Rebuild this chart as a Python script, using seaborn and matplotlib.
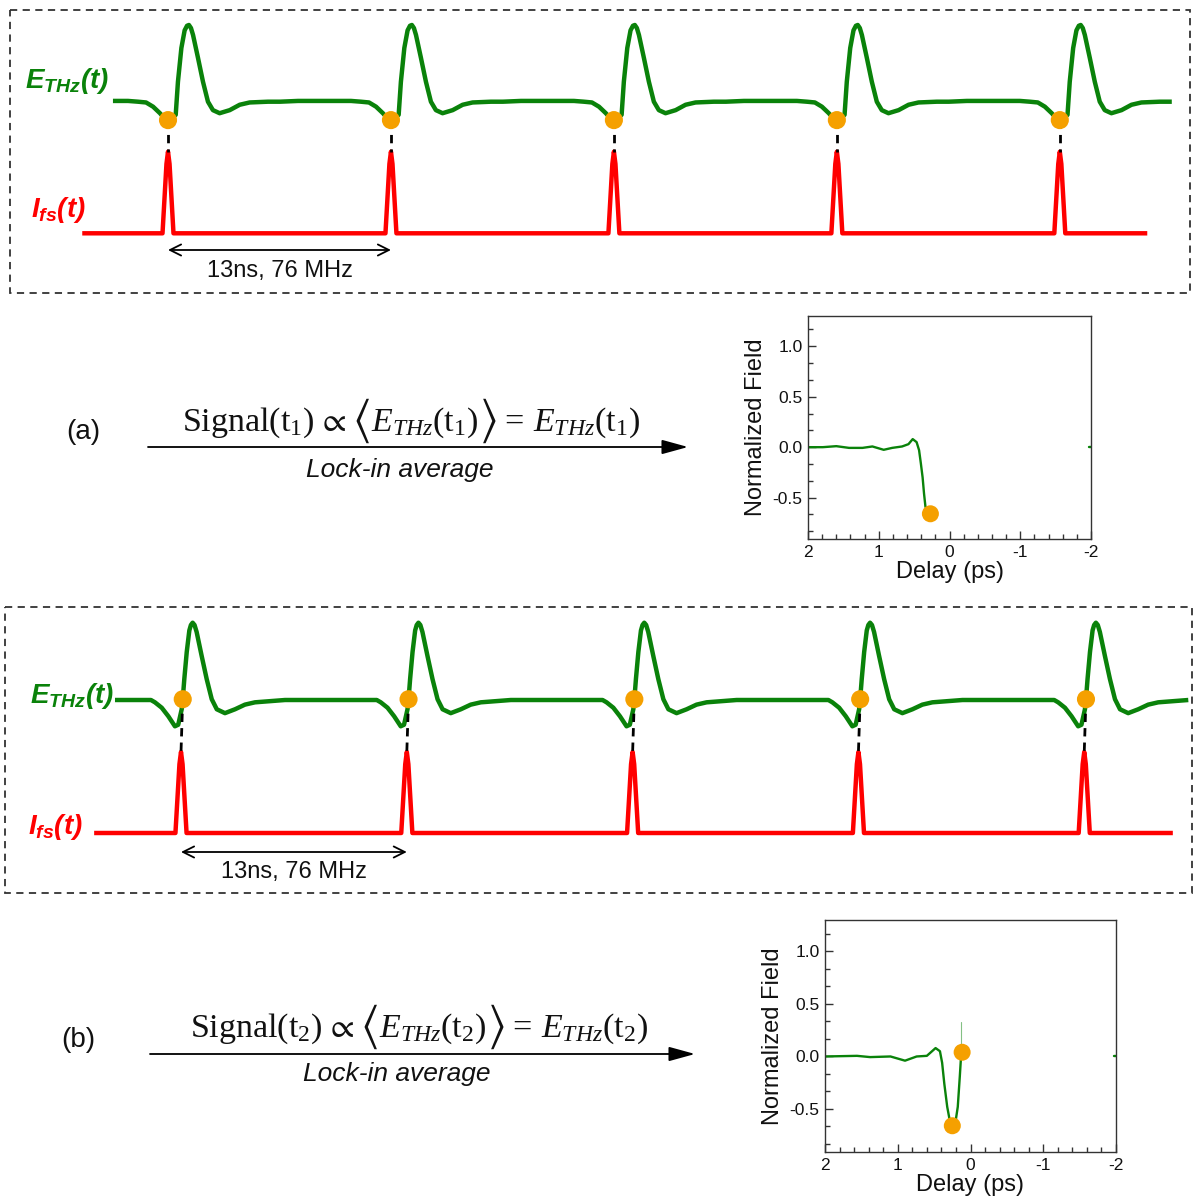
import numpy as np
import matplotlib
matplotlib.use("Agg")
import matplotlib.pyplot as plt
import seaborn as sns
from matplotlib.patches import Rectangle
from matplotlib.ticker import AutoMinorLocator

sns.set_theme(style="white")
plt.rcParams["font.family"] = ["Liberation Sans", "DejaVu Sans"]
plt.rcParams["axes.unicode_minus"] = False
plt.rcParams["mathtext.fontset"] = "custom"
plt.rcParams["mathtext.rm"] = "Liberation Serif"
plt.rcParams["mathtext.it"] = "Liberation Serif:italic"
plt.rcParams["mathtext.bf"] = "Liberation Sans:italic:bold"
plt.rcParams["mathtext.fallback"] = "stix"

GREEN = "#0A820A"
RED = "#FF0000"
ORANGE = "#F5A000"

# ---------------- data ----------------
pulse_times = [0.0, 13.0, 26.0, 39.0, 52.0]          # ns, 76 MHz repetition
period_label = "13ns, 76 MHz"

# one period of the THz field around a laser pulse, case (a) (t in ns, E normalized)
a_tmpl_t = [-3.21, -2.33, -1.75, -1.28, -0.87, -0.47, -0.23, 0.0, 0.23, 0.45, 0.58, 0.78,
            0.97, 1.11, 1.22, 1.34, 1.46, 1.75, 2.04, 2.33, 2.62, 3.01, 3.60, 4.18, 4.76,
            5.83, 6.53, 7.58, 9.33]
a_tmpl_E = [0.01, 0.01, 0.0, -0.01, -0.065, -0.15, -0.21, -0.24, -0.22, -0.17, 0.26, 0.70,
            0.93, 0.99, 1.0, 0.96, 0.87, 0.57, 0.26, 0.0, -0.11, -0.15, -0.11, -0.04, -0.01,
            0.0, 0.0, 0.01, 0.01]
a_green_end = 58.53
a_dot_dt = 0.0
a_dot_E = -0.24

# case (b)
b_tmpl_t = [-3.80, -2.59, -1.73, -1.50, -1.11, -0.73, -0.35, -0.16, 0.04, 0.10, 0.19, 0.33,
            0.48, 0.57, 0.67, 0.78, 0.90, 1.19, 1.48, 1.77, 2.06, 2.53, 3.11, 3.68, 4.26,
            5.41, 5.99, 7.48, 8.92]
b_tmpl_E = [0.0, 0.0, 0.0, -0.03, -0.10, -0.21, -0.34, -0.32, -0.12, 0.01, 0.27, 0.62,
            0.90, 0.97, 1.0, 0.97, 0.88, 0.57, 0.27, 0.01, -0.12, -0.17, -0.12, -0.06, -0.03,
            -0.01, 0.0, 0.0, 0.0]
b_green_end = 57.99
b_dot_dt = 0.10
b_dot_E = 0.01

# femtosecond laser pulse shape
pulse_shape_t = [-0.32, -0.09, 0.0, 0.09, 0.32]
pulse_shape_I = [0.0, 0.85, 1.0, 0.85, 0.0]
red_start, red_end = -5.0, 57.1

# lock-in signal vs delay, inset (a)
a_delay = [2.0, 1.79, 1.60, 1.42, 1.23, 1.09, 0.93, 0.81, 0.67, 0.58, 0.52, 0.465, 0.43,
           0.405, 0.38, 0.36, 0.34, 0.30]
a_field = [0.0, 0.0, 0.01, -0.007, -0.007, 0.007, -0.026, -0.007, 0.007, 0.03, 0.08, 0.05,
           -0.03, -0.16, -0.30, -0.46, -0.59, -0.64]
a_pts_delay = [0.27]
a_pts_field = [-0.66]

# inset (b)
b_delay = [2.0, 1.56, 1.38, 1.10, 0.90, 0.74, 0.60, 0.48, 0.42, 0.39, 0.36, 0.32, 0.285,
           0.25, 0.21, 0.175, 0.147, 0.13, 0.115]
b_field = [0.0, 0.006, -0.006, 0.0, -0.04, 0.0, 0.006, 0.08, 0.05, -0.06, -0.26, -0.48,
           -0.61, -0.66, -0.64, -0.48, -0.19, 0.0, 0.04]
b_pts_delay = [0.25, 0.115]
b_pts_field = [-0.66, 0.04]
b_spike_delay = [0.124, 0.124]
b_spike_field = [0.03, 0.33]

edge_delay = [-1.97, -2.0]
edge_field = [0.0, 0.0]

delay_ticks = [2, 1, 0, -1, -2]
field_ticks = [-0.5, 0.0, 0.5, 1.0]

# ---------------- figure ----------------
W, H = 1196, 1202
fig = plt.figure(figsize=(W / 100, H / 100), dpi=100)
bg = fig.add_axes([0, 0, 1, 1])
bg.set_xlim(0, W)
bg.set_ylim(H, 0)
bg.axis("off")
renderer = fig.canvas.get_renderer()


def rect(x0, y0, x1, y1):
    return [x0 / W, 1 - y1 / H, (x1 - x0) / W, (y1 - y0) / H]


def tile(tt, vv, t_end):
    t = np.concatenate([np.asarray(tt) + p for p in pulse_times])
    v = np.tile(vv, len(pulse_times))
    keep = t <= t_end
    return t[keep], v[keep]


def schematic(box, p0, ppn, E0, E1, I0, I1, tt, ee, g_end, dot_dt, dot_E, arrow_px, text_px):
    x0, y0, x1, y1 = box
    bg.add_patch(Rectangle((x0, y0), x1 - x0, y1 - y0, fill=False, ec="#333333",
                           lw=1.3, ls=(0, (4, 3))))
    axE = fig.add_axes(rect(*box))
    axI = axE.twinx()
    axE.set_zorder(3)
    axI.set_zorder(2)
    t, v = tile(tt, ee, g_end)
    sns.lineplot(x=t, y=v, ax=axE, color=GREEN, lw=3.2, sort=False, estimator=None,
                 legend=False, solid_capstyle="butt")
    rt = [red_start] + [p + d for p in pulse_times for d in pulse_shape_t] + [red_end]
    ri = [0.0] + pulse_shape_I * len(pulse_times) + [0.0]
    sns.lineplot(x=rt, y=ri, ax=axI, color=RED, lw=3.2, sort=False, estimator=None,
                 legend=False, solid_capstyle="butt")
    E_at_peak = (E0 - I1) / (E0 - E1)
    for p in pulse_times:
        axE.plot([p + dot_dt, p], [dot_E, E_at_peak], color="black", lw=2.0,
                 dashes=(3, 2.2), zorder=2)
    sns.scatterplot(x=[p + dot_dt for p in pulse_times], y=[dot_E] * len(pulse_times),
                    ax=axE, color=ORANGE, s=170, edgecolor="none", zorder=5, legend=False)
    axE.set_xlim((x0 - p0) / ppn, (x1 - p0) / ppn)
    axE.set_ylim((E0 - y1) / (E0 - E1), (E0 - y0) / (E0 - E1))
    axI.set_ylim((I0 - y1) / (I0 - I1), (I0 - y0) / (I0 - I1))
    yA = (I0 - arrow_px) / (I0 - I1)
    yT = (I0 - text_px) / (I0 - I1)
    axI.annotate("", xy=(pulse_times[1], yA), xytext=(pulse_times[0], yA),
                 arrowprops=dict(arrowstyle="<->", color="black", lw=1.3,
                                 mutation_scale=20, shrinkA=0, shrinkB=0))
    axI.text((pulse_times[0] + pulse_times[1]) / 2, yT, period_label, ha="center",
             va="center", fontsize=17, color="#111111")
    axE.axis("off")
    axI.axis("off")


schematic((10, 10, 1190, 293), 168, 17.15, 101.7, 25, 233.3, 151.7,
          a_tmpl_t, a_tmpl_E, a_green_end, a_dot_dt, a_dot_E, 250, 271)
schematic((5, 607, 1192, 893), 181, 17.37, 700, 622.7, 833, 752,
          b_tmpl_t, b_tmpl_E, b_green_end, b_dot_dt, b_dot_E, 852, 872)

# curve labels
lab_E = r"$\mathbf{E_{THz}(t)}$"
lab_I = r"$\mathbf{I_{fs}(t)}$"
bg.text(25, 88, lab_E, color=GREEN, fontsize=20, ha="left", va="baseline")
bg.text(31, 217, lab_I, color=RED, fontsize=20, ha="left", va="baseline")
bg.text(30, 703, lab_E, color=GREEN, fontsize=20, ha="left", va="baseline")
bg.text(28, 834, lab_I, color=RED, fontsize=20, ha="left", va="baseline")


def formula(cx, base, k, fs):
    """Signal(t_k) ∝ <E_THz(t_k)> = E_THz(t_k), with tall angle brackets."""
    pieces = [
        (rf"$\mathrm{{Signal(t}}_{k}\mathrm{{)}}\,\propto$", fs, 0, 5),
        (r"$\langle$", fs * 1.4, -10, 1),
        (rf"$E_{{THz}}(\mathrm{{t}}_{k})$", fs, 0, 1),
        (r"$\rangle$", fs * 1.4, -10, 4),
        (rf"$=\,E_{{THz}}(\mathrm{{t}}_{k})$", fs, 0, 0),
    ]
    arts, widths = [], []
    for s, f, dy, gap in pieces:
        va = "baseline" if dy == 0 else "center"
        t = bg.text(0, base + dy, s, fontsize=f, ha="left", va=va, color="#111111")
        arts.append(t)
        widths.append(t.get_window_extent(renderer=renderer).width)
    total = sum(widths) + sum(p[3] for p in pieces)
    x = cx - total / 2
    for t, w, p in zip(arts, widths, pieces):
        t.set_x(x)
        x += w + p[3]


for (lab, fx, fy, k, ax0, ax1, ay, lx, ly, px, py) in [
        ("(a)", 411, 431, 1, 148, 688, 447, 400, 470, 83, 432),
        ("(b)", 419, 1037, 2, 150, 695, 1054, 397, 1074, 78, 1040)]:
    formula(fx, fy, k, 24.5)
    bg.annotate("", xy=(ax1, ay), xytext=(ax0, ay),
                arrowprops=dict(arrowstyle="-|>,head_length=0.8,head_width=0.22",
                                color="black", lw=1.3, mutation_scale=20,
                                shrinkA=0, shrinkB=0))
    bg.text(lx, ly, "Lock-in average", fontsize=19, style="italic", ha="center",
            va="center", color="#111111")
    bg.text(px, py, lab, fontsize=20, ha="center", va="center", color="#111111")


def inset(box, delay, field, pd, pf, extra=None):
    ax = fig.add_axes(rect(*box))
    sns.lineplot(x=delay, y=field, ax=ax, color=GREEN, lw=1.7, sort=False,
                 estimator=None, legend=False)
    sns.lineplot(x=edge_delay, y=edge_field, ax=ax, color=GREEN, lw=1.7, sort=False,
                 estimator=None, legend=False)
    if extra is not None:
        sns.lineplot(x=extra[0], y=extra[1], ax=ax, color=GREEN, lw=0.8, alpha=0.5,
                     sort=False, estimator=None, legend=False)
    sns.scatterplot(x=pd, y=pf, ax=ax, color=ORANGE, s=150, edgecolor="none",
                    zorder=5, legend=False)
    ax.set_xlim(2, -2)
    ax.set_ylim(-0.91, 1.30)
    ax.set_xticks(delay_ticks)
    ax.set_xticklabels([str(d) for d in delay_ticks])
    ax.set_yticks(field_ticks)
    ax.set_yticklabels([f"{v:.1f}" for v in field_ticks])
    ax.xaxis.set_minor_locator(AutoMinorLocator(5))
    ax.yaxis.set_minor_locator(AutoMinorLocator(3))
    ax.tick_params(which="both", direction="in", bottom=True, left=True, top=False,
                   right=False, color="#333333")
    ax.tick_params(which="major", length=6, width=1, labelsize=12.5, pad=4,
                   labelcolor="#111111")
    ax.tick_params(which="minor", length=3.5, width=1)
    for s in ax.spines.values():
        s.set_color("#333333")
        s.set_linewidth(1.0)
    ax.set_xlabel("Delay (ps)", fontsize=17, labelpad=1, color="#111111")
    ax.set_ylabel("Normalized Field", fontsize=17, labelpad=4, color="#111111")
    ax.set_facecolor("white")
    return ax


inset((808, 316, 1091, 539), a_delay, a_field, a_pts_delay, a_pts_field)
inset((825, 920, 1116, 1152), b_delay, b_field, b_pts_delay, b_pts_field,
      extra=(b_spike_delay, b_spike_field))

fig.savefig("out.png", dpi=100, facecolor="white")
